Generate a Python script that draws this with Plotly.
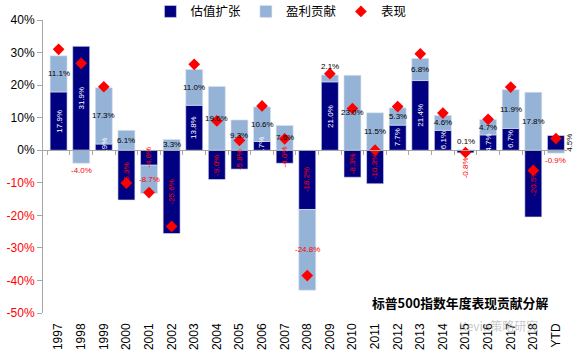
import plotly.graph_objects as go

years = ["1997", "1998", "1999", "2000", "2001", "2002", "2003", "2004", "2005", "2006",
         "2007", "2008", "2009", "2010", "2011", "2012", "2013", "2014", "2015", "2016",
         "2017", "2018", "YTD"]
valuation = [17.9, 31.9, 1.9, -15.3, -4.6, -25.6, 13.8, -9.0, -5.8, 2.7,
             -4.0, -18.2, 21.0, -8.3, -10.3, 7.7, 21.4, 6.1, -0.8, 4.7,
             6.7, -20.5, 4.5]
earnings = [11.1, -4.0, 17.3, 6.1, -8.7, 3.3, 11.0, 19.6, 9.3, 10.6,
            7.6, -24.8, 2.1, 23.0, 11.5, 5.3, 6.8, 4.6, 0.1, 4.7,
            11.9, 17.8, -0.9]
performance = [31.0, 26.7, 19.5, -10.1, -13.0, -23.4, 26.4, 9.0, 3.0, 13.6,
               3.5, -38.5, 23.5, 12.8, 0.0, 13.4, 29.6, 11.4, -0.7, 9.5,
               19.4, -6.2, 3.6]
ytick_vals = [40, 30, 20, 10, 0, -10, -20, -30, -40, -50]

DARK = "#000080"
LIGHT = "#95B3D7"
RED = "#FF0000"
CJK = "Noto Sans CJK SC"
LAT = "Liberation Sans, Arial"

fig = go.Figure()
fig.add_trace(go.Bar(x=years, y=valuation, name="估值扩张",
                     marker=dict(color=DARK, line=dict(color="#dde3ee", width=0.6)),
                     width=0.75, hoverinfo="x+y"))
fig.add_trace(go.Bar(x=years, y=earnings, name="盈利贡献",
                     marker=dict(color=LIGHT, line=dict(color="#dde3ee", width=0.6)),
                     width=0.75, hoverinfo="x+y"))
fig.add_trace(go.Scatter(x=years, y=performance, name="表现", mode="markers",
                         marker=dict(symbol="diamond", color=RED, size=9)))
# helper trace so the zero-line axis carries the same categories
fig.add_trace(go.Scatter(x=years, y=performance, xaxis="x2", mode="markers",
                         marker=dict(opacity=0), showlegend=False, hoverinfo="skip"))

annotations = []
n = len(years)
for i, (v, e) in enumerate(zip(valuation, earnings)):
    # valuation labels (rotated)
    vt = f"{v:.1f}%"
    if i == n - 1:
        annotations.append(dict(x=i, y=v / 2, text=vt, textangle=-90, showarrow=False,
                                xshift=14, font=dict(size=8, color="black", family=LAT)))
    elif v < 0 and abs(v) < 2:
        annotations.append(dict(x=i, y=v, text=vt, textangle=-90, showarrow=False,
                                yshift=-15, font=dict(size=8, color=RED, family=LAT)))
    else:
        annotations.append(dict(x=i, y=v / 2, text=vt, textangle=-90, showarrow=False,
                                font=dict(size=8, color="white" if v > 0 else RED, family=LAT)))
    # earnings labels (horizontal)
    if e > 0:
        base = v if v > 0 else 0
    else:
        base = v if v < 0 else 0
    et = f"{e:.1f}%"
    col = "black" if e > 0 else RED
    if 0 < e < 3:
        annotations.append(dict(x=i, y=base + e, text=et, showarrow=False, yanchor="bottom",
                                yshift=2, font=dict(size=8, color=col, family=LAT)))
    elif e < 0 and abs(e) < 5:
        annotations.append(dict(x=i, y=base + e, text=et, showarrow=False, yanchor="top",
                                yshift=-1, font=dict(size=8, color=col, family=LAT)))
    else:
        annotations.append(dict(x=i, y=base + e / 2, text=et, showarrow=False,
                                font=dict(size=8, color=col, family=LAT)))

annotations.append(dict(xref="paper", yref="paper", x=0.795, xanchor="center", y=0.035, yanchor="middle",
                        text="<b>标普500指数年度表现贡献分解</b>",
                        showarrow=False, font=dict(size=12.8, color="black", family=CJK)))
annotations.append(dict(xref="paper", yref="paper", x=0.87, xanchor="center", y=-0.044, yanchor="middle",
                        text="Kevin策略研究",
                        showarrow=False, font=dict(size=12, color="rgba(150,150,150,0.55)", family=CJK)))

ticktext = [f"{t}%" if t >= 0 else f'<span style="color:#FF0000">{t}%</span>' for t in ytick_vals]

zero_frac = 50 / 90
fig.update_layout(
    width=576, height=353,
    margin=dict(l=43, r=9, t=20, b=40, autoexpand=False),
    barmode="relative",
    plot_bgcolor="white", paper_bgcolor="white",
    font=dict(family=LAT, size=12, color="black"),
    xaxis=dict(type="category", range=[-0.69, 22.49], showline=False, ticks="",
               tickangle=-90, tickfont=dict(size=12, family=LAT), ticklabelstandoff=7,
               showgrid=False, zeroline=False),
    xaxis2=dict(type="category", overlaying="x", matches="x", anchor="free", position=zero_frac,
                showline=True, linecolor="#a6a6a6", linewidth=1, ticks="outside", ticklen=4,
                tickcolor="#a6a6a6", tickson="boundaries", showticklabels=False, showgrid=False),
    yaxis=dict(range=[-50, 40], tickvals=ytick_vals, ticktext=ticktext, showline=True,
               linecolor="#a6a6a6", linewidth=1, ticks="outside", ticklen=5, tickcolor="#a6a6a6",
               showgrid=False, zeroline=False, tickfont=dict(size=12, family=LAT)),
    legend=dict(orientation="h", x=0.205, xanchor="left", y=1.028, yanchor="middle",
                font=dict(size=12.5, family=CJK), itemwidth=30, bgcolor="rgba(0,0,0,0)",
                tracegroupgap=0),
    annotations=annotations,
    showlegend=True,
)

fig.write_html("out.html")
